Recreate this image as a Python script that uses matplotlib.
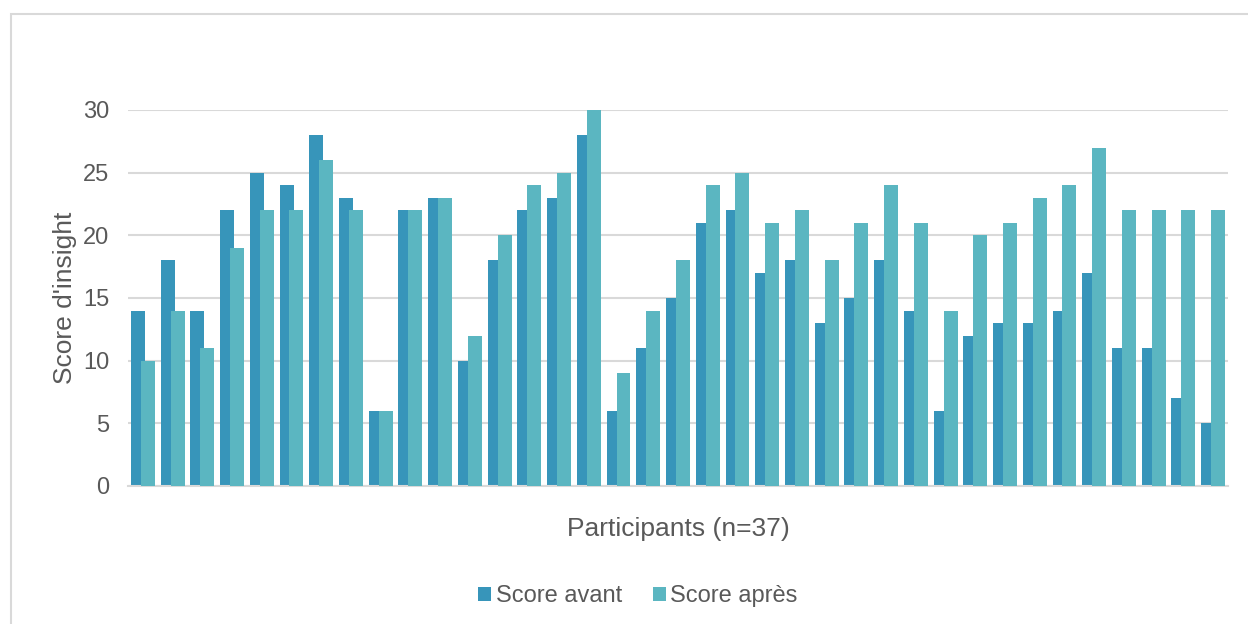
import numpy as np
import matplotlib
matplotlib.use("Agg")
import matplotlib.pyplot as plt
from matplotlib.patches import Rectangle

# Scores (37 participants)
score_avant = [14, 18, 14, 22, 25, 24, 28, 23, 6, 22, 23, 10, 18, 22, 23, 28, 6, 11, 15,
               21, 22, 17, 18, 13, 15, 18, 14, 6, 12, 13, 13, 14, 17, 11, 11, 7, 5]
score_apres = [10, 14, 11, 19, 22, 22, 26, 22, 6, 22, 23, 12, 20, 24, 25, 30, 9, 14, 18,
               24, 25, 21, 22, 18, 21, 24, 21, 14, 20, 21, 23, 24, 27, 22, 22, 22, 22]
y_ticks = [0, 5, 10, 15, 20, 25, 30]

plt.rcParams['font.family'] = ['Liberation Sans', 'DejaVu Sans']
text_color = "#595959"
c_avant = "#3795BA"
c_apres = "#5BB6C1"

W, H = 1248, 624
fig = plt.figure(figsize=(W / 100, H / 100), dpi=100)

# light outer frame like the Excel chart area
fig.patches.append(Rectangle((11 / W, -0.1), 1.2, (H - 14) / H + 0.1,
                             transform=fig.transFigure, fill=False,
                             edgecolor="#D9D9D9", linewidth=1.5))

ax = fig.add_axes([128 / W, (H - 486) / H, 1100 / W, 376 / H])

x = np.arange(len(score_avant))
w = 0.47
ax.bar(x - 0.167, score_avant, width=w, color=c_avant, label="Score avant", zorder=2)
ax.bar(x + 0.167, score_apres, width=w, color=c_apres, label="Score après", zorder=3)

ax.set_xlim(-0.5, len(x) - 0.5)
ax.set_ylim(0, 30)
ax.set_yticks(y_ticks)
ax.set_xticks([])
ax.tick_params(axis="y", length=0, labelsize=17, labelcolor=text_color, pad=13.5)
ax.yaxis.grid(True, color="#D9D9D9", linewidth=1.5, zorder=0)
ax.set_axisbelow(True)
for s in ["top", "right", "left"]:
    ax.spines[s].set_visible(False)
ax.spines["bottom"].set_color("#D9D9D9")
ax.spines["bottom"].set_linewidth(1.5)

ax.set_xlabel("Participants (n=37)", fontsize=19, color=text_color, labelpad=22)
ax.set_ylabel("Score d'insight", fontsize=19, color=text_color, labelpad=4.5)

leg = fig.legend(loc="center", bbox_to_anchor=(638 / W, 1 - 596 / H), ncol=2,
                 frameon=False, fontsize=17, handlelength=0.55, handleheight=0.55,
                 handletextpad=0.2, columnspacing=1.3)
for t in leg.get_texts():
    t.set_color(text_color)

fig.savefig("out.png", dpi=100)
